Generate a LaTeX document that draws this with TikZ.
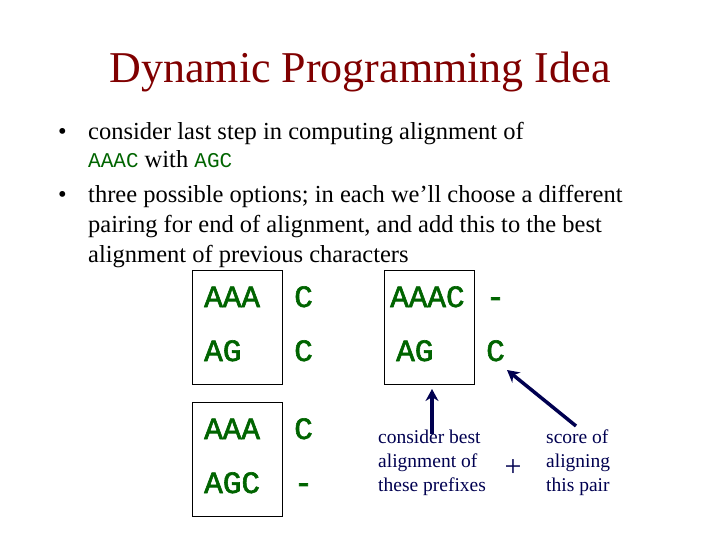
\documentclass[tikz,border=0pt]{standalone}
\usepackage{fontspec}
\usetikzlibrary{arrows.meta}
\setmainfont{Liberation Serif}
\newfontfamily\cour[FakeBold=2]{Liberation Mono}
\definecolor{ttl}{RGB}{128,0,0}
\definecolor{grn}{RGB}{0,100,0}
\definecolor{nav}{RGB}{0,0,80}
\begin{document}
\begin{tikzpicture}[x=1pt,y=-1pt,
  seq/.style={font=\cour\fontsize{31}{31}\selectfont,text=grn,anchor=base west,inner sep=0},
  lab/.style={font=\fontsize{19.5}{24}\selectfont,text=nav,align=left,anchor=north west,inner sep=0},
  txt/.style={font=\fontsize{24.5}{26}\selectfont,anchor=base west,inner sep=0,align=left},
  bx/.style={draw,line width=0.8pt},
  arr/.style={draw=nav,line width=3.5pt,-{Stealth[length=12pt,width=13pt]}}]
\useasboundingbox (0,0) rectangle (720,540);
\node[font=\fontsize{44}{46}\selectfont,text=ttl] (title) at (360,72) {Dynamic Programming Idea};
\node[txt] (b1) at (58,140) {•};
\node[txt] (t1) at (88,140) {consider last step in computing alignment of};
\node[txt] (t1b) at (88,168) {{\fontspec{Liberation Mono}\fontsize{21}{21}\selectfont\color{grn}AAAC} with {\fontspec{Liberation Mono}\fontsize{21}{21}\selectfont\color{grn}AGC}};
\node[txt] (b2) at (58,203) {•};
\node[txt] (t2) at (88,203) {three possible options; in each we’ll choose a different};
\node[txt] (t2b) at (88,233) {pairing for end of alignment, and add this to the best};
\node[txt] (t2c) at (88,262) {alignment of previous characters};
\node[bx,minimum width=90,minimum height=114,anchor=north west] (box1) at (192,270) {};
\node[bx,minimum width=90,minimum height=114,anchor=north west] (box2) at (192,402) {};
\node[bx,minimum width=90,minimum height=114,anchor=north west] (box3) at (384,270) {};
\node[seq] (s1) at (204,307) {AAA};
\node[seq] (s2) at (294,307) {C};
\node[seq] (s3) at (204,361) {AG};
\node[seq] (s4) at (294,361) {C};
\node[seq] (s5) at (204,439) {AAA};
\node[seq] (s6) at (294,439) {C};
\node[seq] (s7) at (204,493) {AGC};
\node[seq] (s8) at (294,493) {-};
\node[seq] (s9) at (390,307) {AAAC};
\node[seq] (s10) at (486,307) {-};
\node[seq] (s11) at (396,361) {AG};
\node[seq] (s12) at (486,361) {C};
\node[lab] (l1) at (378,430) {consider best\\alignment of\\these prefixes};
\node[font=\fontsize{30}{30}\selectfont,text=nav] (plus) at (513,468) {+};
\node[lab] (l2) at (546,430) {score of\\aligning\\this pair};
\coordinate (a1s) at (432,434);
\coordinate (a1e) at (432,389);
\draw[arr] (a1s) -- (a1e);
\coordinate (a2s) at (576,426);
\coordinate (a2e) at (507,370);
\draw[arr] (a2s) -- (a2e);
\end{tikzpicture}
\end{document}
